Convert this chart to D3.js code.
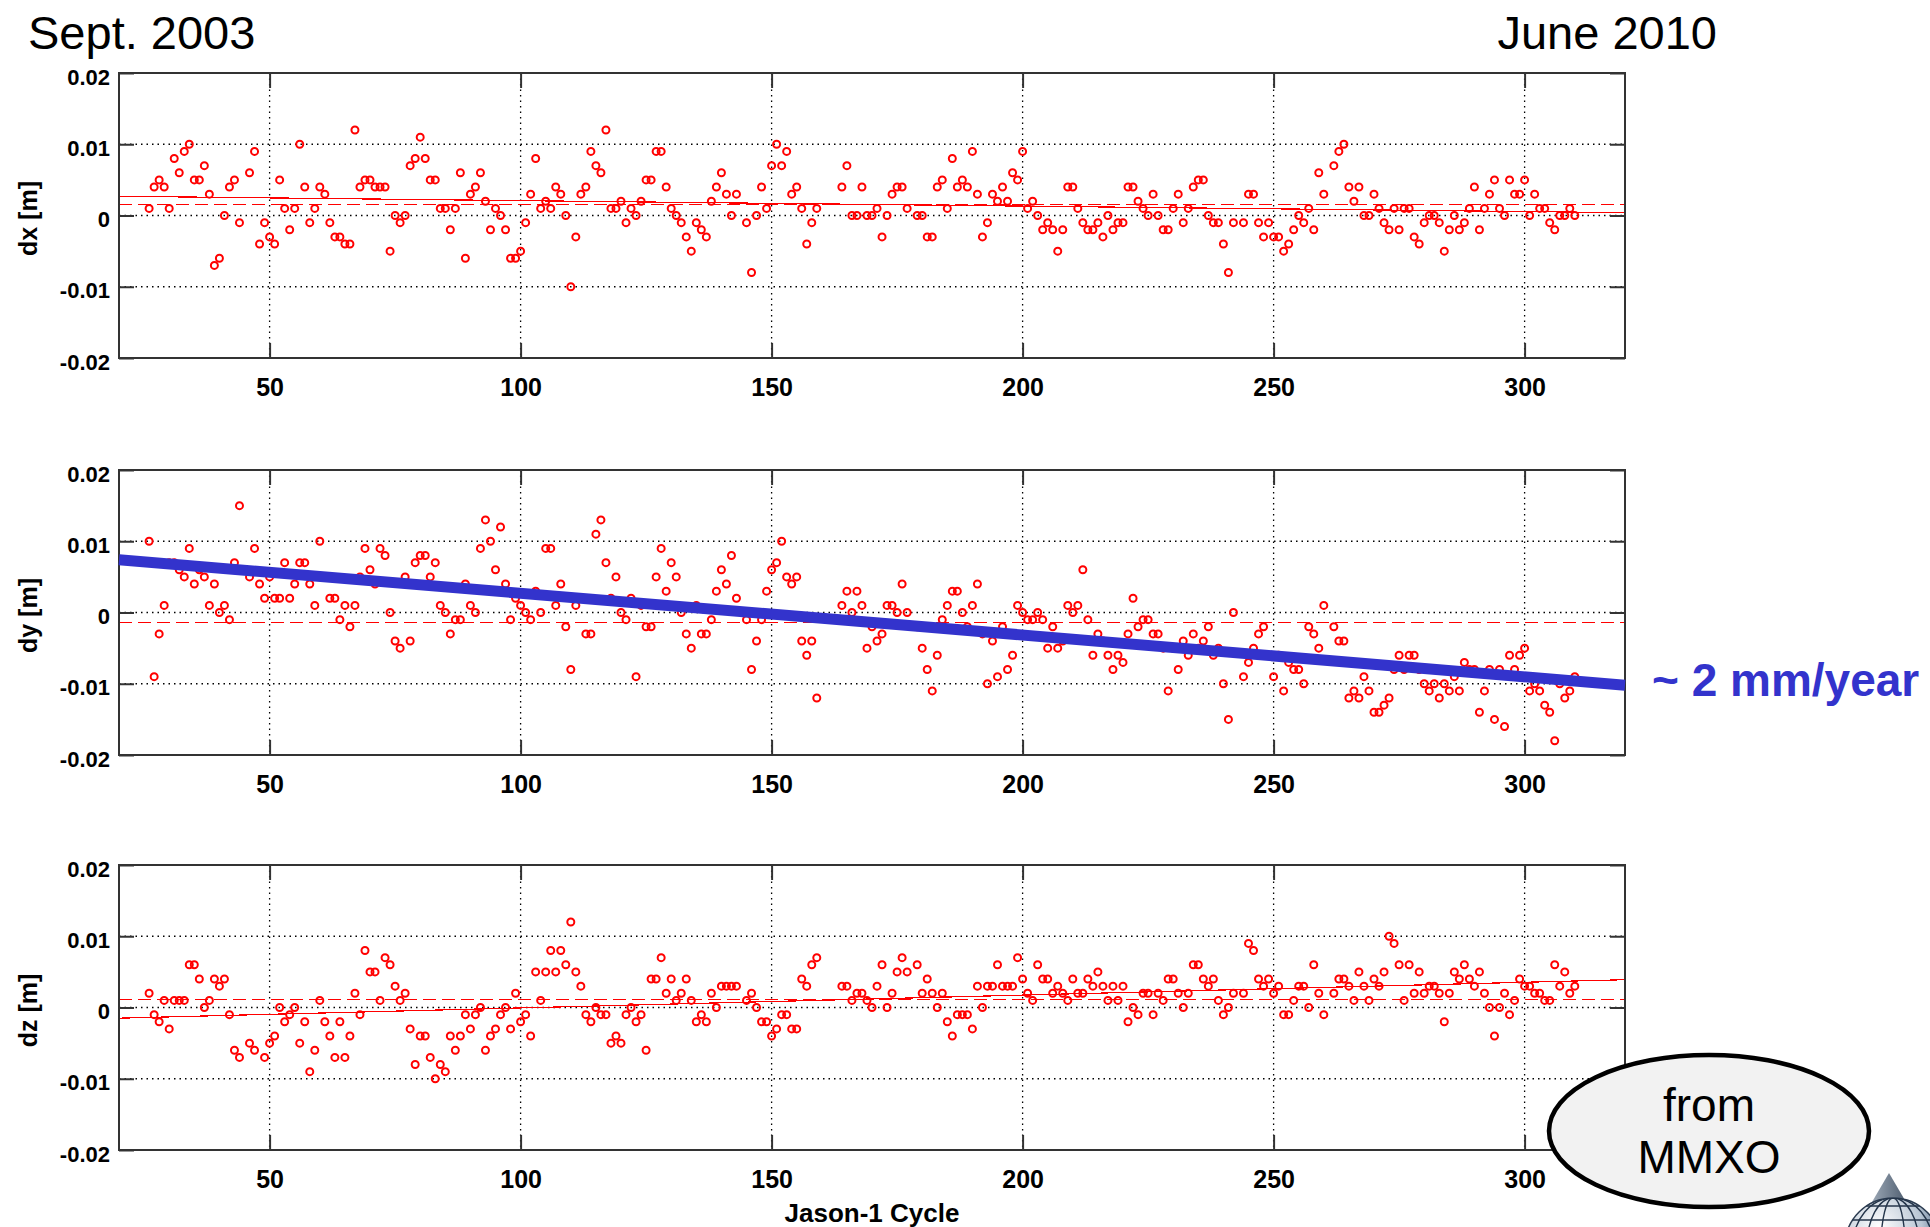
<!DOCTYPE html>
<html>
<head>
<meta charset="utf-8">
<script src="https://cdn.jsdelivr.net/npm/d3@7"></script>
<style>
body { margin: 0; background: #fff; }
text { font-family: Arial, "Liberation Sans", Helvetica, sans-serif; }
</style>
</head>
<body>
<div id="chart"></div>
<script>
// Jason-1 cycles with a solution
var cycles = [
  26,27,28,29,30,31,32,33,34,35, 36,37,38,39,40,41,42,43,44,
  46,47,48,49,50,51,52,53,54,55, 56,57,58,59,60,61,62,63,64,65,
  66,67,68,69,70,71,72,73,74,75, 76,77,78,79,80,81,82,83,84,85,
  86,87,88,89,90,91,92,93,94,95, 96,97,98,99,100,101,102,103,104,105,
  106,107,108,109,110,111,112,113,114,115, 116,117,118,119,120,121,122,123,124,125,
  126,127,128,129,130,131,132,133,134,135, 136,137,138,139,140,141,142,143,
  145,146,147,148,149,150,151,152,153,154, 155,156,157,158,159,
  164,165,166,167,168,169,170,171,172,173, 174,175,176,177,
  179,180,181,182,183,184,185,186,187,188, 189,190,191,192,193,194,195,196,197,198,
  199,200,201,202,203,204,205,206,207,208, 209,210,211,212,213,214,215,216,217,218,
  219,220,221,222,223,224,225,226,227,228, 229,230,231,232,233,234,235,236,237,238,
  239,240,241,242,
  244,245,246,247,248,249,250,251,252,253, 254,255,256,257,258,259,260,
  262,263,264,265,266,267,268,269,270,271, 272,273,274,275,276,277,278,279,280,281,
  282,283,284,285,286,287,288,289,290,291, 292,293,294,295,296,297,298,299,300,301,
  302,303,304,305,306,307,308,309,310
];

// offsets in mm, same order as cycles (null = no point)
var dxMm = [
  1,4,5,4,1,8,6,9,10,5, 5,7,3,-7,-6,0,4,5,-1,
  6,9,-4,-1,-3,-4,5,1,-2,1, 10,4,-1,1,4,3,-1,-3,-3,-4,
  -4,12,4,5,5,4,4,4,-5,0, -1,0,7,8,11,8,5,5,1,1,
  -2,1,6,-6,3,4,6,2,-2,1, 0,-2,-6,-6,-5,-1,3,8,1,2,
  1,4,3,0,-10,-3,3,4,9,7, 6,12,1,1,2,-1,1,0,2,5,
  5,9,9,4,1,0,-1,-3,-5,-1, -2,-3,2,4,6,3,0,3,
  -1,-8,0,4,1,7,10,7,9,3, 4,1,-4,-1,1,
  4,7,0,0,4,0,0,1,-3,0, 3,4,4,1,
  0,0,-3,-3,4,5,1,8,4,5, 4,9,3,-3,-1,3,2,4,2,6,
  5,9,1,2,0,-2,-1,-2,-5,-2, 4,4,1,-1,-2,-2,-1,-3,0,-2,
  -1,-1,4,4,2,1,0,3,0,-2, -2,1,3,-1,1,4,5,5,0,-1,
  -1,-4,-8,-1,
  -1,3,3,-1,-3,-1,-3,-3,-5,-4, -2,0,-1,1,-2,6,3,
  7,9,10,4,2,4,0,0,3,1, -1,-2,1,-2,1,1,-3,-4,-1,0,
  0,-1,-5,-2,0,-2,-1,1,4,-2, 1,3,5,1,0,5,3,3,5,0,
  3,1,1,-1,-2,0,0,1,0
];

var dyMm = [
  10,-9,-3,1,7,7,6,5,9,4, 6,5,1,4,0,1,-1,7,15,
  5,9,4,2,5,2,2,7,2,4, 7,7,4,1,10,5,2,2,-1,1,
  -2,1,5,9,6,4,9,8,0,-4, -5,5,-4,7,8,8,5,7,1,0,
  -3,-1,-1,4,1,0,9,13,10,6, 12,4,-1,2,1,0,-1,3,0,9,
  9,1,4,-2,-8,1,2,-3,-3,11, 13,7,2,5,0,-1,2,-9,1,-2,
  -2,5,9,3,7,5,0,-3,-5,1, -3,-3,-1,3,6,4,8,2,
  -1,-8,-4,-1,3,6,7,10,5,4, 5,-4,-6,-4,-12,
  1,3,0,3,1,-5,-2,-4,-3,1, 1,0,4,0,
  -2,-5,-8,-11,-6,-1,1,3,3,0, -2,1,4,-3,-10,-4,-9,-2,-8,-6,
  1,0,-1,-1,0,-1,-5,-2,-5,-4, 1,0,1,6,-1,-6,-3,-4,-6,-8,
  -6,-7,-3,2,-2,-1,-1,-3,-3,-5, -11,-5,-8,-4,-6,-3,-5,-4,-2,-6,
  -5,-10,-15,0,
  -9,-7,-5,-3,-2,-6,-9,-6,-11,-7, -8,-8,-10,-2,-3,-5,1,
  -2,-4,-4,-12,-11,-12,-9,-11,-14,-14, -13,-12,-8,-6,-8,-6,-6,-8,-10,-11,
  -10,-12,-10,-11,-9,-11,-7,-8,-8,-14, -11,-8,-15,-8,-16,-6,-8,-6,-5,-11,
  -10,-11,-13,-14,-18,-10,-12,-11,-9
];

var dzMm = [
  2,-1,-2,1,-3,1,1,1,6,6, 4,0,1,4,3,4,-1,-6,-7,
  -5,-6,null,-7,-5,-4,0,-2,-1,0, -5,-2,-9,-6,1,-2,-4,-7,-2,-7,
  -4,2,-1,8,5,5,1,7,6,3, 1,2,-3,-8,-4,-4,-7,-10,-8,-9,
  -4,-6,-4,-1,-3,-1,0,-6,-4,-3, -1,0,-3,2,-2,-1,-4,5,1,5,
  8,5,8,6,12,5,3,-1,-2,0, -1,-1,-5,-4,-5,-1,0,-2,-1,-6,
  4,4,7,2,4,1,2,4,1,-2, -1,-2,2,0,3,3,3,3,
  1,2,0,-2,-2,-4,-3,-1,-1,-3, -3,4,3,6,7,
  3,3,1,2,2,1,0,3,6,0, 2,5,7,5,
  6,2,4,2,0,2,-2,-4,-1,-1, -1,-3,3,0,3,3,6,3,3,3,
  7,4,2,1,6,4,4,2,3,2, 1,4,2,2,4,3,5,3,1,3,
  1,3,-2,0,-1,2,2,-1,2,1, 4,4,2,0,2,6,6,4,3,4,
  1,-1,0,2,
  2,9,8,4,3,4,2,3,-1,-1, 1,3,3,0,6,2,-1,
  2,4,4,3,1,5,3,1,4,3, 5,10,9,6,1,6,2,5,2,3,
  3,2,-2,2,5,4,6,4,3,5, 2,0,-4,0,2,-1,1,4,3,3,
  2,2,1,1,6,3,5,2,3
];

// fitted trend (values at the two ends of the x range) and mean, in metres
var trendCycles = [20, 320];
var dxTrend = [0.0027, 0.0004];
var dyTrend = [0.0074, -0.0102];
var dzTrend = [-0.0015, 0.0039];
var dxMean = 0.0015, dyMean = -0.0014, dzMean = 0.0011;

var xTicks = [50, 100, 150, 200, 250, 300];
var yTicks = [-0.02, -0.01, 0, 0.01, 0.02];
var yTickLabels = ["-0.02", "-0.01", "0", "0.01", "0.02"];
var gridY = [-0.01, 0, 0.01];

var width = 1930, height = 1227;
var plotLeft = 119, plotW = 1506, plotH = 285;
var panelTops = [73, 470, 865];
var axisColor = "#333";

var svg = d3.select("#chart").append("svg")
  .attr("width", width)
  .attr("height", height);

svg.append("rect").attr("width", width).attr("height", height).attr("fill", "#fff");

var x = d3.scaleLinear().domain([20, 320]).range([0, plotW]);
var y = d3.scaleLinear().domain([-0.02, 0.02]).range([plotH, 0]);

var panels = [
  {label: "dx [m]", values: dxMm, trend: dxTrend, mean: dxMean},
  {label: "dy [m]", values: dyMm, trend: dyTrend, mean: dyMean},
  {label: "dz [m]", values: dzMm, trend: dzTrend, mean: dzMean}
];

panels.forEach(function(p, i) {
  var g = svg.append("g")
    .attr("transform", "translate(" + plotLeft + "," + panelTops[i] + ")");

  // dotted grid
  g.selectAll(".vgrid").data(xTicks).enter().append("line")
    .attr("x1", function(d) { return x(d); })
    .attr("x2", function(d) { return x(d); })
    .attr("y1", 0).attr("y2", plotH)
    .attr("stroke", "#000").attr("stroke-width", 1.3)
    .attr("stroke-dasharray", "1.5,4");
  g.selectAll(".hgrid").data(gridY).enter().append("line")
    .attr("x1", 0).attr("x2", plotW)
    .attr("y1", function(d) { return y(d); })
    .attr("y2", function(d) { return y(d); })
    .attr("stroke", "#000").attr("stroke-width", 1.3)
    .attr("stroke-dasharray", "1.5,4");

  // trend and mean
  g.append("line")
    .attr("x1", x(trendCycles[0])).attr("x2", x(trendCycles[1]))
    .attr("y1", y(p.trend[0])).attr("y2", y(p.trend[1]))
    .attr("stroke", "#ff0000").attr("stroke-width", 1.2)
    .attr("shape-rendering", "crispEdges");
  g.append("line")
    .attr("x1", x(trendCycles[0])).attr("x2", x(trendCycles[1]))
    .attr("y1", y(p.mean)).attr("y2", y(p.mean))
    .attr("stroke", "#ff0000").attr("stroke-width", 1.2)
    .attr("stroke-dasharray", "13,6")
    .attr("shape-rendering", "crispEdges");

  var pts = cycles.map(function(c, j) { return {c: c, v: p.values[j]}; })
    .filter(function(d) { return d.v !== null; });

  g.selectAll(".pt").data(pts).enter().append("circle")
    .attr("cx", function(d) { return x(d.c); })
    .attr("cy", function(d) { return y(d.v / 1000); })
    .attr("r", 3.5)
    .attr("fill", "none")
    .attr("stroke", "#ff0000")
    .attr("stroke-width", 2);

  // axes, ticks pointing inward
  var left = g.append("g")
    .call(d3.axisLeft(y).tickValues(yTicks).tickSize(-15).tickPadding(9)
      .tickFormat(function(d, k) { return yTickLabels[k]; }));
  var right = g.append("g").attr("transform", "translate(" + plotW + ",0)")
    .call(d3.axisRight(y).tickValues(yTicks).tickSize(-15).tickFormat(""));
  var bottom = g.append("g").attr("transform", "translate(0," + plotH + ")")
    .call(d3.axisBottom(x).tickValues(xTicks).tickSize(-15).tickPadding(20));
  var top = g.append("g")
    .call(d3.axisTop(x).tickValues(xTicks).tickSize(-15).tickFormat(""));

  [left, right, bottom, top].forEach(function(a) {
    a.select(".domain").remove();
    a.attr("font-size", 22).attr("font-weight", "bold")
      .attr("font-family", "Arial, 'Liberation Sans', sans-serif");
    a.selectAll(".tick line").attr("stroke", axisColor).attr("stroke-width", 2);
    a.selectAll(".tick text").attr("fill", "#000");
  });
  left.selectAll(".tick text").attr("dy", "0.5em");
  bottom.attr("font-size", 25);

  g.append("rect")
    .attr("width", plotW).attr("height", plotH)
    .attr("fill", "none").attr("stroke", axisColor).attr("stroke-width", 2);

  g.append("text")
    .attr("transform", "translate(" + (37 - plotLeft) + "," + (plotH / 2 + 3) + ") rotate(-90)")
    .attr("text-anchor", "middle")
    .attr("font-size", 25)
    .attr("font-weight", "bold")
    .text(p.label);

  if (i === 1) {
    g.append("line")
      .attr("x1", x(trendCycles[0])).attr("x2", x(trendCycles[1]))
      .attr("y1", y(p.trend[0])).attr("y2", y(p.trend[1]))
      .attr("stroke", "#3333cc").attr("stroke-width", 11);
  }
});

svg.append("text")
  .attr("x", 1652).attr("y", 696)
  .attr("font-size", 46).attr("font-weight", "bold")
  .attr("fill", "#3333cc")
  .text("~ 2 mm/year");

svg.append("text")
  .attr("x", plotLeft + plotW / 2).attr("y", 1222)
  .attr("text-anchor", "middle")
  .attr("font-size", 26)
  .attr("font-weight", "bold")
  .text("Jason-1 Cycle");

svg.append("text")
  .attr("x", 28).attr("y", 49)
  .attr("font-size", 47)
  .text("Sept. 2003");

svg.append("text")
  .attr("x", 1717).attr("y", 49)
  .attr("text-anchor", "end")
  .attr("font-size", 47)
  .text("June 2010");

// "from MMXO" bubble
svg.append("ellipse")
  .attr("cx", 1709).attr("cy", 1131).attr("rx", 160).attr("ry", 76)
  .attr("fill", "#f2f2f2").attr("stroke", "#000").attr("stroke-width", 4.5);
svg.append("text")
  .attr("x", 1709).attr("y", 1121).attr("text-anchor", "middle")
  .attr("font-size", 46).text("from");
svg.append("text")
  .attr("x", 1709).attr("y", 1173).attr("text-anchor", "middle")
  .attr("font-size", 46).text("MMXO");

// small globe logo in the corner
var defs = svg.append("defs");
var grad = defs.append("radialGradient").attr("id", "globe")
  .attr("cx", "35%").attr("cy", "30%").attr("r", "75%");
grad.append("stop").attr("offset", "0%").attr("stop-color", "#ffffff");
grad.append("stop").attr("offset", "60%").attr("stop-color", "#b9c6d4");
grad.append("stop").attr("offset", "100%").attr("stop-color", "#2f4d6e");
var tri = defs.append("linearGradient").attr("id", "cone")
  .attr("x1", "0%").attr("x2", "100%");
tri.append("stop").attr("offset", "0%").attr("stop-color", "#9aa6b4");
tri.append("stop").attr("offset", "100%").attr("stop-color", "#4f5e70");
defs.append("clipPath").attr("id", "globeClip")
  .append("circle").attr("cx", 1893).attr("cy", 1246).attr("r", 48);

svg.append("path")
  .attr("d", "M1889,1173 L1872,1202 L1906,1202 Z")
  .attr("fill", "url(#cone)");
svg.append("circle").attr("cx", 1893).attr("cy", 1246).attr("r", 48)
  .attr("fill", "url(#globe)").attr("stroke", "#2b3b50").attr("stroke-width", 1.5);
var wire = svg.append("g").attr("clip-path", "url(#globeClip)")
  .attr("fill", "none").attr("stroke", "#24354a").attr("stroke-width", 1.4);
[12, 26, 40].forEach(function(rx) {
  wire.append("ellipse").attr("cx", 1893).attr("cy", 1246).attr("rx", rx).attr("ry", 48);
});
[1206, 1220, 1234].forEach(function(yy) {
  wire.append("line").attr("x1", 1840).attr("x2", 1945).attr("y1", yy).attr("y2", yy);
});
</script>
</body>
</html>
